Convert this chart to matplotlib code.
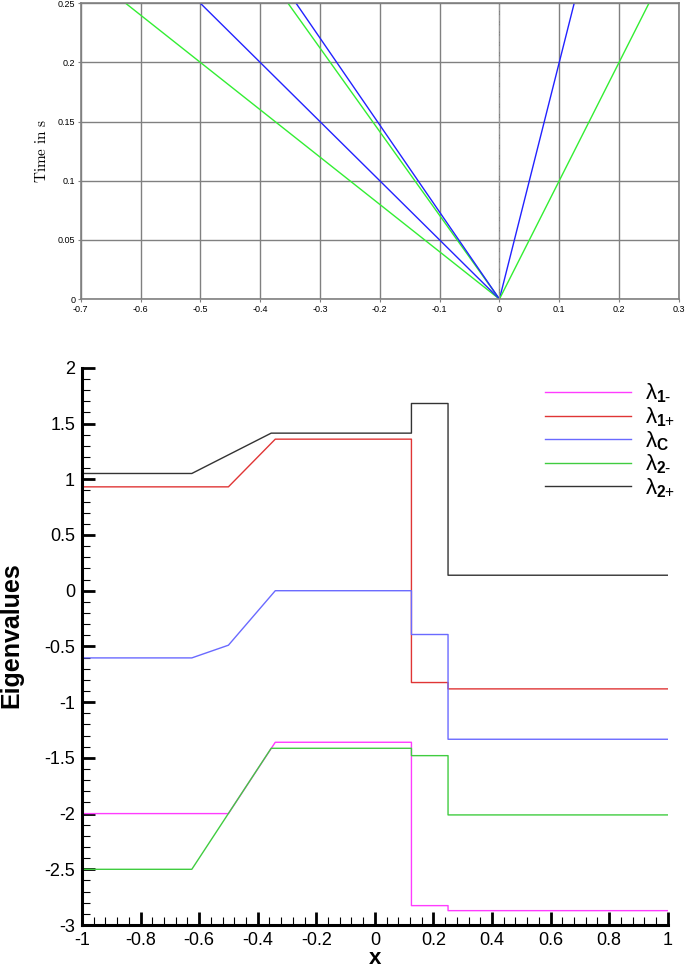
import matplotlib
matplotlib.use("Agg")
import matplotlib.pyplot as plt
from matplotlib.ticker import MultipleLocator, FuncFormatter

plt.rcParams["font.family"] = ["Liberation Sans", "DejaVu Sans"]
plt.rcParams["axes.unicode_minus"] = False
plt.rcParams["mathtext.fontset"] = "custom"
plt.rcParams["mathtext.rm"] = "Liberation Sans"
plt.rcParams["mathtext.bf"] = "Liberation Sans:bold"

# top: wave fans from the origin (x = speed * t)
speeds = [-2.5, -2.0, -1.414, -1.36, 0.5, 1.0]
speed_colors = ["#33ee33", "#2222ff", "#33ee33", "#2222ff", "#2222ff", "#33ee33"]
t_end = 0.25

# bottom: eigenvalues along x
x_1m = [-1, -0.5, -0.34, 0.125, 0.125, 0.25, 0.25, 1]
y_1m = [-2.0, -2.0, -1.36, -1.36, -2.826, -2.826, -2.871, -2.871]
x_1p = [-1, -0.5, -0.34, 0.125, 0.125, 0.25, 0.25, 1]
y_1p = [0.932, 0.932, 1.36, 1.36, -0.824, -0.824, -0.881, -0.881]
x_c = [-1, -0.625, -0.5, -0.34, 0.125, 0.125, 0.25, 0.25, 1]
y_c = [-0.603, -0.603, -0.489, 0.0, 0.0, -0.393, -0.393, -1.333, -1.333]
x_2m = [-1, -0.625, -0.354, 0.125, 0.125, 0.25, 0.25, 1]
y_2m = [-2.5, -2.5, -1.414, -1.414, -1.48, -1.48, -2.012, -2.012]
x_2p = [-1, -0.625, -0.354, 0.125, 0.125, 0.25, 0.25, 1]
y_2p = [1.052, 1.052, 1.414, 1.414, 1.68, 1.68, 0.139, 0.139]

labels = [r"λ$_{\mathbf{1\text{-}}}$", r"λ$_{\mathbf{1\text{+}}}$", r"λ$_{\mathbf{C}}$",
          r"λ$_{\mathbf{2\text{-}}}$", r"λ$_{\mathbf{2\text{+}}}$"]


def fmt(v, pos):
    v = round(v, 6)
    if v == 0:
        return "0"
    return "%g" % v


fig = plt.figure(figsize=(6.85, 9.68), dpi=100)

# ---- top plot ----
ax1 = fig.add_axes([0.118, 0.691, 0.873, 0.3056])
for s, c in zip(speeds, speed_colors):
    ax1.plot([0, s * t_end], [0, t_end], color=c, lw=1.0)
ax1.axvline(0, color="#999999", lw=0.7, ls="-.")
ax1.set_xlim(-0.7, 0.3)
ax1.set_ylim(0, 0.25)
ax1.xaxis.set_major_locator(MultipleLocator(0.1))
ax1.yaxis.set_major_locator(MultipleLocator(0.05))
ax1.xaxis.set_major_formatter(FuncFormatter(fmt))
ax1.yaxis.set_major_formatter(FuncFormatter(fmt))
ax1.grid(True, color="#808080", lw=1.0)
ax1.tick_params(labelsize=6.5, length=2, color="#808080", pad=2)
for sp in ax1.spines.values():
    sp.set_color("#808080")
    sp.set_linewidth(1.2)
ax1.set_ylabel(r"$\mathrm{Time\ in\ s}$", fontsize=11, math_fontfamily="cm", labelpad=6)

# ---- bottom plot ----
ax2 = fig.add_axes([0.1197, 0.0444, 0.855, 0.5756])
ax2.plot(x_1m, y_1m, color="#ff3cff", lw=1.0, label=labels[0])
ax2.plot(x_1p, y_1p, color="#e03535", lw=1.0, label=labels[1])
ax2.plot(x_c, y_c, color="#6a6aff", lw=1.0, label=labels[2])
ax2.plot(x_2m, y_2m, color="#40cc40", lw=1.0, label=labels[3])
ax2.plot(x_2p, y_2p, color="#333333", lw=1.0, label=labels[4])
ax2.set_xlim(-1, 1)
ax2.set_ylim(-3, 2)
ax2.xaxis.set_major_locator(MultipleLocator(0.2))
ax2.xaxis.set_minor_locator(MultipleLocator(0.04))
ax2.yaxis.set_major_locator(MultipleLocator(0.5))
ax2.yaxis.set_minor_locator(MultipleLocator(0.1))
ax2.xaxis.set_major_formatter(FuncFormatter(fmt))
ax2.yaxis.set_major_formatter(FuncFormatter(fmt))
ax2.spines["top"].set_visible(False)
ax2.spines["right"].set_visible(False)
for side in ["left", "bottom"]:
    ax2.spines[side].set_linewidth(2.2)
ax2.tick_params(which="major", direction="in", length=9.5, width=2, labelsize=13, pad=5)
ax2.tick_params(which="minor", direction="in", length=6, width=0.8)
ax2.set_xlabel("x", fontsize=16, fontweight="bold", labelpad=-1)
ax2.set_ylabel("Eigenvalues", fontsize=18, fontweight="bold")
ax2.yaxis.set_label_coords(-0.1, 0.52)
ax2.legend(loc="upper left", bbox_to_anchor=(0.79, 0.975), frameon=False,
           fontsize=16, handlelength=3.9, handletextpad=0.6, labelspacing=0.0,
           borderpad=0, borderaxespad=0)

fig.savefig("out.png", dpi=100)
